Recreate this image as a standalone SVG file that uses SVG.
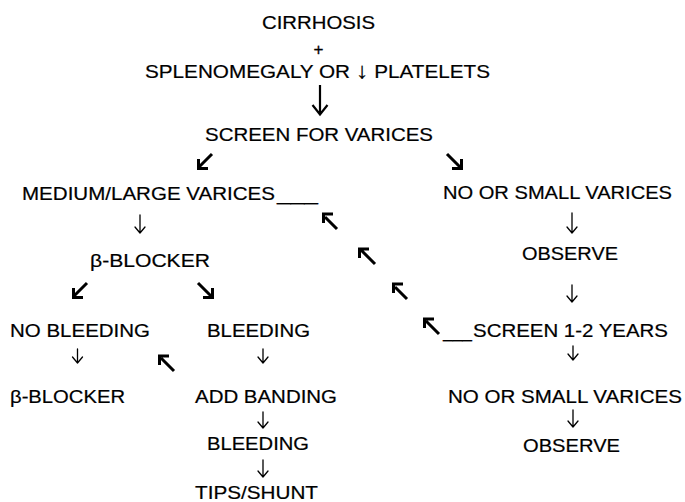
<svg xmlns="http://www.w3.org/2000/svg" width="685" height="502" viewBox="0 0 685 502">
<style>
  text { font-family: "Liberation Sans", Arial, sans-serif; font-size: 18px; fill: #000; stroke: #000; stroke-width: 0.2; }
  .plus { font-size: 17px; stroke-width: 0.3; }
  .thin { fill: none; stroke: #000; stroke-width: 1.3; stroke-linecap: round; stroke-linejoin: round; }
  .bold { fill: none; stroke: #000; stroke-width: 3; stroke-linecap: butt; stroke-linejoin: miter; }
  .big { fill: none; stroke: #000; stroke-width: 2.2; stroke-linejoin: miter; }
</style>
<rect width="685" height="502" fill="#fff"/>

<g id="n-cirrhosis">
  <text x="262" y="29" textLength="113" lengthAdjust="spacingAndGlyphs">CIRRHOSIS</text>
  <text class="plus" x="318.5" y="55" text-anchor="middle">+</text>
  <text x="145" y="78" textLength="345" lengthAdjust="spacingAndGlyphs">SPLENOMEGALY OR <tspan font-size="22">↓</tspan> PLATELETS</text>
</g>
<g id="n-screen">
  <text x="205" y="141" textLength="228" lengthAdjust="spacingAndGlyphs">SCREEN FOR VARICES</text>
</g>
<g id="n-medlarge">
  <text x="22" y="199.5" textLength="253" lengthAdjust="spacingAndGlyphs">MEDIUM/LARGE VARICES</text>
  <text x="277" y="199.5" textLength="41" lengthAdjust="spacingAndGlyphs">___</text>
</g>
<g id="n-nosmall1">
  <text x="443" y="199" textLength="229" lengthAdjust="spacingAndGlyphs">NO OR SMALL VARICES</text>
</g>
<g id="n-bblocker1">
  <text x="90" y="266.5" textLength="120" lengthAdjust="spacingAndGlyphs">β-BLOCKER</text>
</g>
<g id="n-observe1">
  <text x="522" y="260" textLength="96" lengthAdjust="spacingAndGlyphs">OBSERVE</text>
</g>
<g id="n-nobleeding">
  <text x="10" y="337" textLength="140" lengthAdjust="spacingAndGlyphs">NO BLEEDING</text>
</g>
<g id="n-bleeding1">
  <text x="207" y="337" textLength="103" lengthAdjust="spacingAndGlyphs">BLEEDING</text>
</g>
<g id="n-screen12">
  <text x="443" y="337" textLength="29" lengthAdjust="spacingAndGlyphs">___</text>
  <text x="473" y="337" textLength="195" lengthAdjust="spacingAndGlyphs">SCREEN 1-2 YEARS</text>
</g>
<g id="n-bblocker2">
  <text x="10" y="403" textLength="115" lengthAdjust="spacingAndGlyphs">β-BLOCKER</text>
</g>
<g id="n-addbanding">
  <text x="195" y="403" textLength="142" lengthAdjust="spacingAndGlyphs">ADD BANDING</text>
</g>
<g id="n-nosmall2">
  <text x="448" y="403" textLength="234" lengthAdjust="spacingAndGlyphs">NO OR SMALL VARICES</text>
</g>
<g id="n-bleeding2">
  <text x="207" y="450" textLength="102" lengthAdjust="spacingAndGlyphs">BLEEDING</text>
</g>
<g id="n-observe2">
  <text x="523" y="451.5" textLength="97" lengthAdjust="spacingAndGlyphs">OBSERVE</text>
</g>
<g id="n-tips">
  <text x="195" y="499" textLength="123" lengthAdjust="spacingAndGlyphs">TIPS/SHUNT</text>
</g>

<g id="connectors">
  <path class="big" d="M320,85 V114 M312.5,105 L320,114.5 L327.5,105"/>
  <path class="bold" d="M212,154 L199,167 M198.5,159 V168.5 H208"/>
  <path class="bold" d="M447,154 L460,167 M461.5,159 V168.5 H452"/>
  <path class="bold" d="M87,283 L74,296 M73.5,288 V297.5 H83"/>
  <path class="bold" d="M198,283 L211,296 M212.5,288 V297.5 H203"/>
  <path class="bold" d="M337,229 L325,217 M323.5,223 V214 H333"/>
  <path class="bold" d="M375,264 L361,250 M359.5,258 V249 H369"/>
  <path class="bold" d="M407,299 L395,287 M393.5,293 V284 H403"/>
  <path class="bold" d="M439,334 L426,321 M424.5,328 V319 H434"/>
  <path class="bold" d="M174,371 L161,358 M159.5,365 V356 H169"/>
  <path class="thin" d="M140,215 V233 M135,227 L140,233 L145,227"/>
  <path class="thin" d="M572,213 V233 M567,227 L572,233 L577,227"/>
  <path class="thin" d="M572,285 V302 M567,296 L572,302 L577,296"/>
  <path class="thin" d="M77.5,349 V363 M72.5,357 L77.5,363 L82.5,357"/>
  <path class="thin" d="M263,349 V363 M258,357 L263,363 L268,357"/>
  <path class="thin" d="M573,346 V360 M568,354 L573,360 L578,354"/>
  <path class="thin" d="M263,412 V428 M258,422 L263,428 L268,422"/>
  <path class="thin" d="M573,410 V427 M568,421 L573,427 L578,421"/>
  <path class="thin" d="M263,460 V477 M258,471 L263,477 L268,471"/>
</g>
</svg>
